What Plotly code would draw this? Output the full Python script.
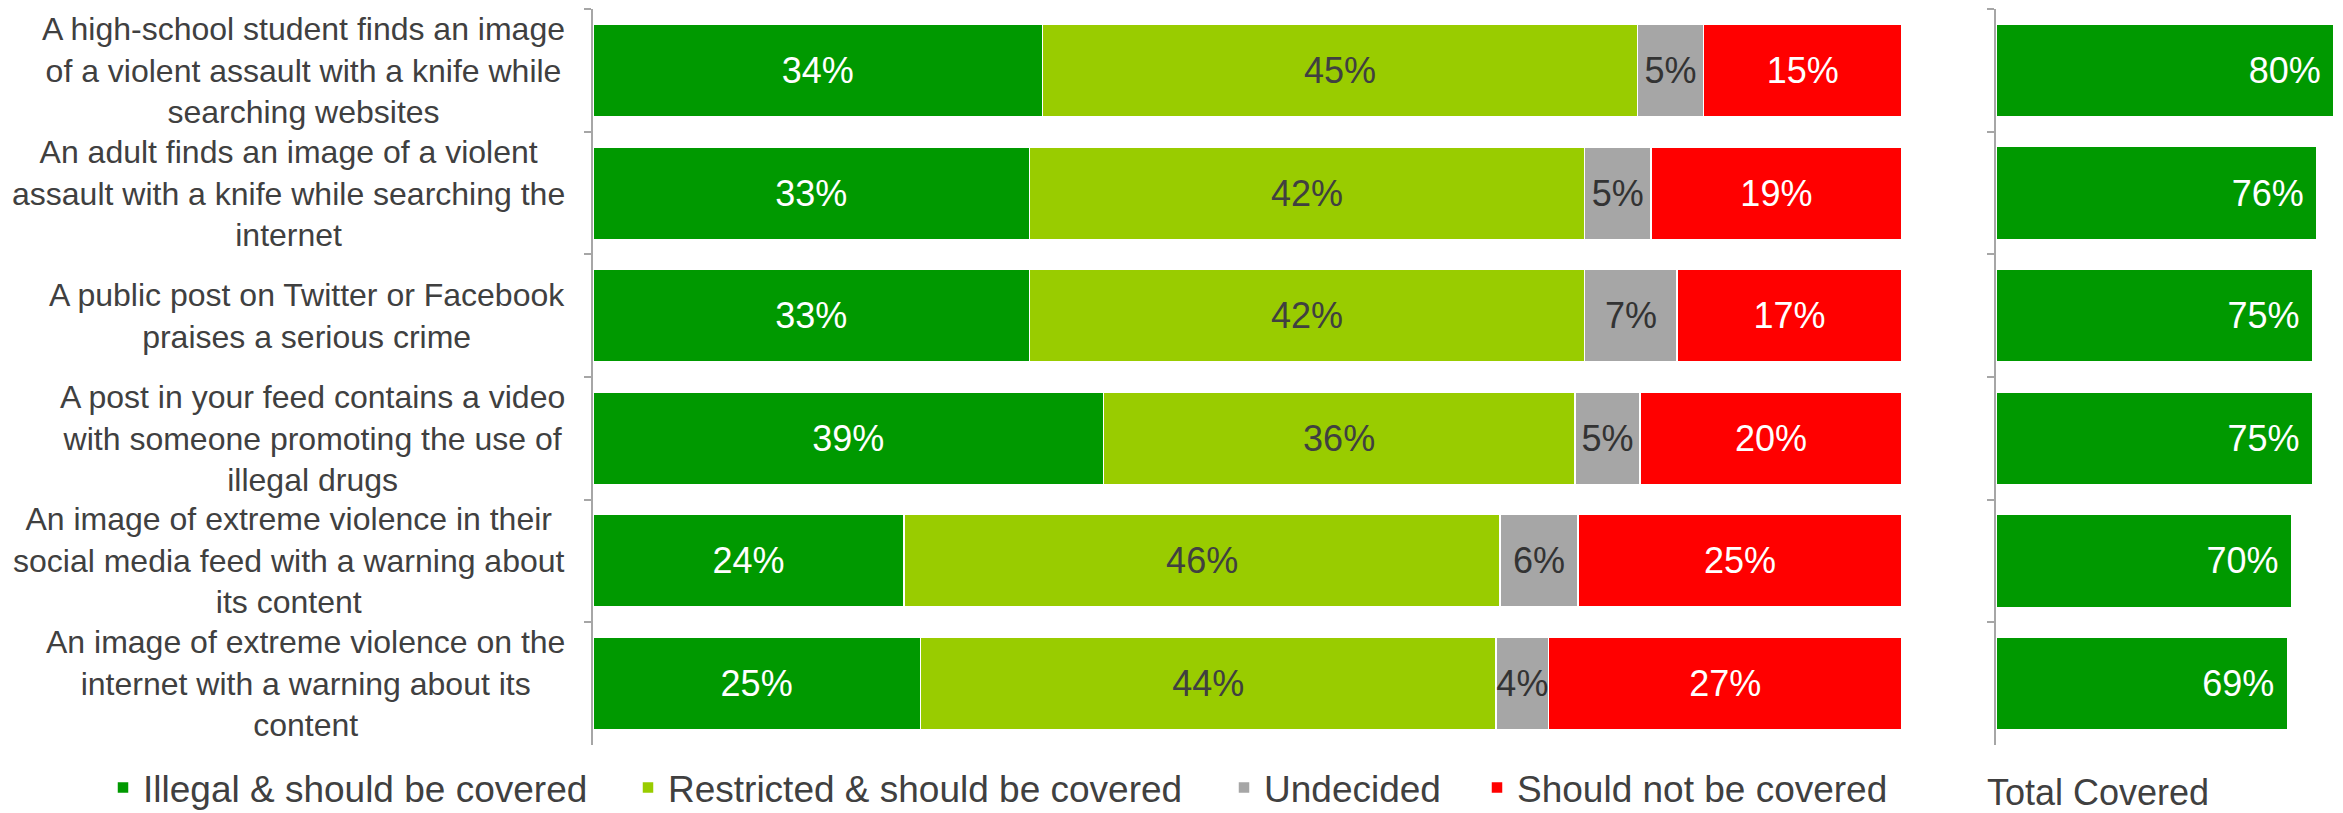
import plotly.graph_objects as go

W, H = 2343, 813

# Scenario labels, top to bottom
scenarios = [
    "A high-school student finds an image<br>of a violent assault with a knife while<br>searching websites",
    "An adult finds an image of a violent<br>assault with a knife while searching the<br>internet",
    "A public post on Twitter or Facebook<br>praises a serious crime",
    "A post in your feed contains a video<br>with someone promoting the use of<br>illegal drugs",
    "An image of extreme violence in their<br>social media feed with a warning about<br>its content",
    "An image of extreme violence on the<br>internet with a warning about its<br>content",
]

# Response shares (%)
illegal = [34, 33, 33, 39, 24, 25]
restricted = [45, 42, 42, 36, 46, 44]
undecided = [5, 5, 7, 5, 6, 4]
not_covered = [15, 19, 17, 20, 25, 27]
total_covered = [80, 76, 75, 75, 70, 69]

series_names = [
    "Illegal & should be covered",
    "Restricted & should be covered",
    "Undecided",
    "Should not be covered",
]
series_values = [illegal, restricted, undecided, not_covered]
colors = ["#009900", "#99CC00", "#A6A6A6", "#FF0000"]
text_colors = ["#FFFFFF", "#404040", "#333333", "#FFFFFF"]

FONT = "Arial, Liberation Sans, sans-serif"
GREY_TEXT = "#404040"
AXIS_GREY = "#A6A6A6"

# each stacked row fills the full width (100% stacked)
row_totals = [sum(vals) for vals in zip(*series_values)]

# pixel layout helpers
def px_x(x):
    return x / W

def px_y(y):
    return 1 - y / H

plot_top, plot_bottom = 9, 745
left_x0, left_x1 = 593, 1902
right_x0 = 1996

legend_ids = ["legend", "legend2", "legend3", "legend4"]
legend_text_starts = [143, 668, 1264, 1517]

fig = go.Figure()

for name, vals, col, tcol, lg in zip(series_names, series_values, colors, text_colors, legend_ids):
    shares = [v / t * 100 for v, t in zip(vals, row_totals)]
    fig.add_trace(go.Bar(
        y=scenarios,
        x=shares,
        name=name,
        orientation="h",
        marker=dict(color=col, line=dict(color="white", width=1.5)),
        text=[f"{v}%" for v in vals],
        textposition="inside",
        insidetextanchor="middle",
        textangle=0,
        constraintext="none",
        textfont=dict(family=FONT, size=36, color=tcol),
        legend=lg,
        xaxis="x",
        yaxis="y",
        hoverinfo="skip",
    ))

fig.add_trace(go.Bar(
    y=scenarios,
    x=total_covered,
    orientation="h",
    marker=dict(color="#009900", line=dict(color="white", width=1)),
    text=[f"{v}%\u00a0" for v in total_covered],
    textposition="inside",
    insidetextanchor="end",
    textangle=0,
    constraintext="none",
    textfont=dict(family=FONT, size=36, color="white"),
    showlegend=False,
    xaxis="x2",
    yaxis="y2",
    hoverinfo="skip",
))

yaxis_common = dict(
    type="category",
    categoryorder="array",
    categoryarray=scenarios,
    autorange="reversed",
    showticklabels=False,
    ticks="outside",
    tickson="boundaries",
    ticklen=7,
    tickwidth=1.5,
    tickcolor=AXIS_GREY,
    showline=True,
    linecolor=AXIS_GREY,
    linewidth=1.5,
    showgrid=False,
    zeroline=False,
    domain=[px_y(plot_bottom), px_y(plot_top)],
)

legend_common = dict(
    orientation="h",
    yanchor="middle",
    y=px_y(788),
    xanchor="left",
    font=dict(family=FONT, size=37, color=GREY_TEXT),
    bgcolor="rgba(0,0,0,0)",
    borderwidth=0,
)

layout_legends = {}
for lg, ts in zip(legend_ids, legend_text_starts):
    layout_legends[lg] = dict(legend_common, x=px_x(ts - 40))

fig.update_layout(
    width=W,
    height=H,
    margin=dict(l=0, r=0, t=0, b=0, autoexpand=False),
    paper_bgcolor="white",
    plot_bgcolor="white",
    barmode="stack",
    bargap=0.245,
    font=dict(family=FONT, color=GREY_TEXT),
    xaxis=dict(
        domain=[px_x(left_x0), px_x(left_x1)],
        range=[0, 100],
        visible=False,
    ),
    xaxis2=dict(
        domain=[px_x(right_x0), 1.0],
        range=[0, 82.2],
        visible=False,
        anchor="y2",
    ),
    yaxis=dict(yaxis_common, anchor="x"),
    yaxis2=dict(yaxis_common, anchor="x2", matches="y"),
    **layout_legends,
)

# Scenario labels, centred lines in a right-aligned block
for s in scenarios:
    fig.add_annotation(
        x=px_x(567), xref="paper", xanchor="right",
        y=s, yref="y", yanchor="middle",
        text=s, align="center", showarrow=False,
        font=dict(family=FONT, size=32, color=GREY_TEXT),
    )

fig.add_annotation(
    x=px_x(1985), xref="paper", xanchor="left",
    y=px_y(792), yref="paper", yanchor="middle",
    text="Total Covered", showarrow=False,
    font=dict(family=FONT, size=36, color=GREY_TEXT),
)

fig.write_html("out.html")
